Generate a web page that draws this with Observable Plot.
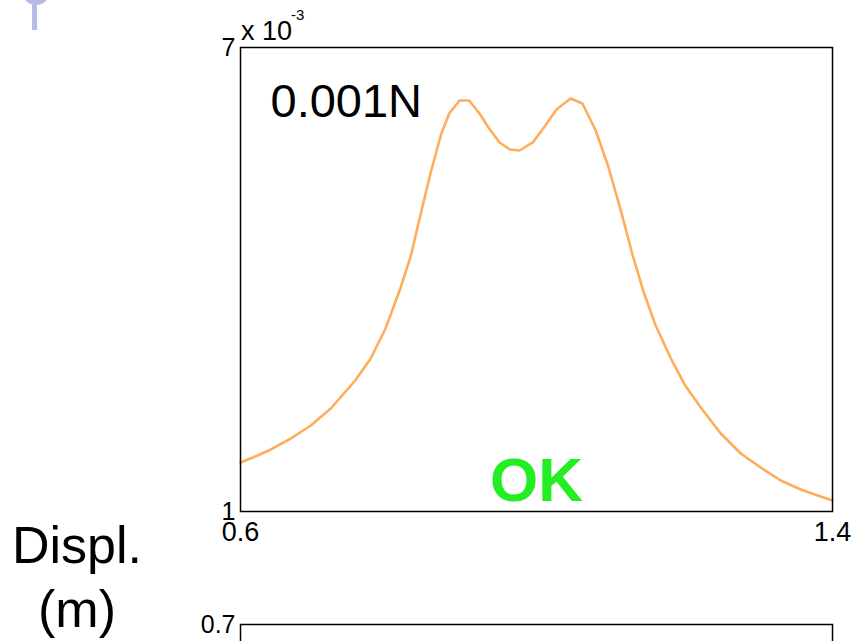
<!DOCTYPE html>
<html>
<head>
<meta charset="utf-8">
<script src="https://cdn.jsdelivr.net/npm/d3@7"></script>
<script src="https://cdn.jsdelivr.net/npm/@observablehq/plot@0.6"></script>
<style>
  html, body { margin: 0; padding: 0; background: #fff; }
  #wrap { position: relative; width: 854px; height: 641px; overflow: hidden; background: #fff;
          font-family: "Liberation Sans", Arial, sans-serif; }
  #wrap > * { position: absolute; left: 0; }
</style>
</head>
<body>
<div id="wrap"></div>
<script>
// Frequency ratio (x) and displacement in units of 10^-3 m (y)
const freq = [0.6, 0.620, 0.641, 0.668, 0.695, 0.722, 0.755, 0.776, 0.796, 0.816, 0.830, 0.843, 0.857, 0.871, 0.882, 0.896, 0.909, 0.923, 0.936, 0.950, 0.964, 0.977, 0.995, 1.012, 1.027, 1.046, 1.062, 1.080, 1.097, 1.114, 1.130, 1.145, 1.161, 1.181, 1.201, 1.222, 1.249, 1.276, 1.303, 1.330, 1.357, 1.384, 1.4];
const displ = [1.634, 1.711, 1.802, 1.944, 2.112, 2.332, 2.694, 2.979, 3.367, 3.884, 4.298, 4.828, 5.384, 5.875, 6.147, 6.315, 6.315, 6.147, 5.953, 5.772, 5.681, 5.668, 5.772, 5.992, 6.199, 6.341, 6.276, 5.927, 5.461, 4.892, 4.310, 3.832, 3.405, 2.991, 2.629, 2.345, 2.009, 1.750, 1.569, 1.401, 1.284, 1.194, 1.142];
const xTicks = [0.6, 1.4];
const yTicks = [1, 7];
const yTicks2 = [0.7];
const forceLabel = "0.001N";
const statusLabel = "OK";
const yLabelLines = ["Displ.", "(m)"];

const data = freq.map((f, i) => ({f, d: displ[i]}));
const wrap = document.getElementById("wrap");
const FONT = "Liberation Sans, Arial, sans-serif";

const upperPlot = Plot.plot({
  width: 854, height: 641,
  marginLeft: 240, marginRight: 22, marginTop: 47, marginBottom: 130,
  style: {fontFamily: FONT, background: "transparent", color: "#000"},
  x: {domain: [0.6, 1.4]},
  y: {domain: [1, 7]},
  marks: [
    Plot.line(data, {x: "f", y: "d", stroke: "#ffad5c", strokeWidth: 2.6}),
    Plot.frame({stroke: "#000", strokeWidth: 1.5}),
    Plot.axisX({ticks: xTicks, tickSize: 0, tickPadding: 10, fontSize: 27, tickFormat: d => d.toFixed(1), label: null}),
    Plot.axisY({ticks: yTicks, tickSize: 0, tickPadding: 5, fontSize: 25, tickFormat: d => String(d), label: null}),
    Plot.text([forceLabel], {frameAnchor: "top-left", dx: 30, dy: 36, text: d => d, textAnchor: "start", lineAnchor: "top", fontSize: 47, fill: "#000"}),
    Plot.text([statusLabel], {frameAnchor: "bottom", dy: -11, text: d => d, lineAnchor: "bottom", fontSize: 62, fontWeight: "bold", fill: "#22ee22"})
  ]
});
upperPlot.style.top = "0px";
wrap.appendChild(upperPlot);

const lowerPlot = Plot.plot({
  width: 854, height: 140,
  marginLeft: 240, marginRight: 22, marginTop: 24, marginBottom: 30,
  style: {fontFamily: FONT, background: "transparent", color: "#000"},
  x: {domain: [0.6, 1.4], axis: null},
  y: {domain: [0, 0.7]},
  marks: [
    Plot.frame({stroke: "#000", strokeWidth: 1.5}),
    Plot.axisY({ticks: yTicks2, tickSize: 0, tickPadding: 5, fontSize: 25, tickFormat: d => d.toFixed(1), label: null})
  ]
});
lowerPlot.style.top = "600px";
wrap.appendChild(lowerPlot);

// overlay: exponent label, y-axis caption and decorative icon
const ov = d3.create("svg").attr("width", 854).attr("height", 641)
  .style("font-family", FONT).style("pointer-events", "none");
ov.append("text").attr("x", 241).attr("y", 40).attr("font-size", 27).attr("fill", "#000").text("x 10");
ov.append("text").attr("x", 291).attr("y", 20).attr("font-size", 15).attr("fill", "#000").text("-3");
yLabelLines.forEach((t, i) => {
  ov.append("text").attr("x", 77).attr("y", 563 + i * 64).attr("text-anchor", "middle")
    .attr("font-size", 52).attr("fill", "#000").text(t);
});
ov.append("circle").attr("cx", 36).attr("cy", -9).attr("r", 14).attr("fill", "#b8bbe6");
ov.append("rect").attr("x", 32).attr("y", 0).attr("width", 5).attr("height", 30).attr("fill", "#b8bbe6");
const ovNode = ov.node();
ovNode.style.top = "0px";
wrap.appendChild(ovNode);
</script>
</body>
</html>
